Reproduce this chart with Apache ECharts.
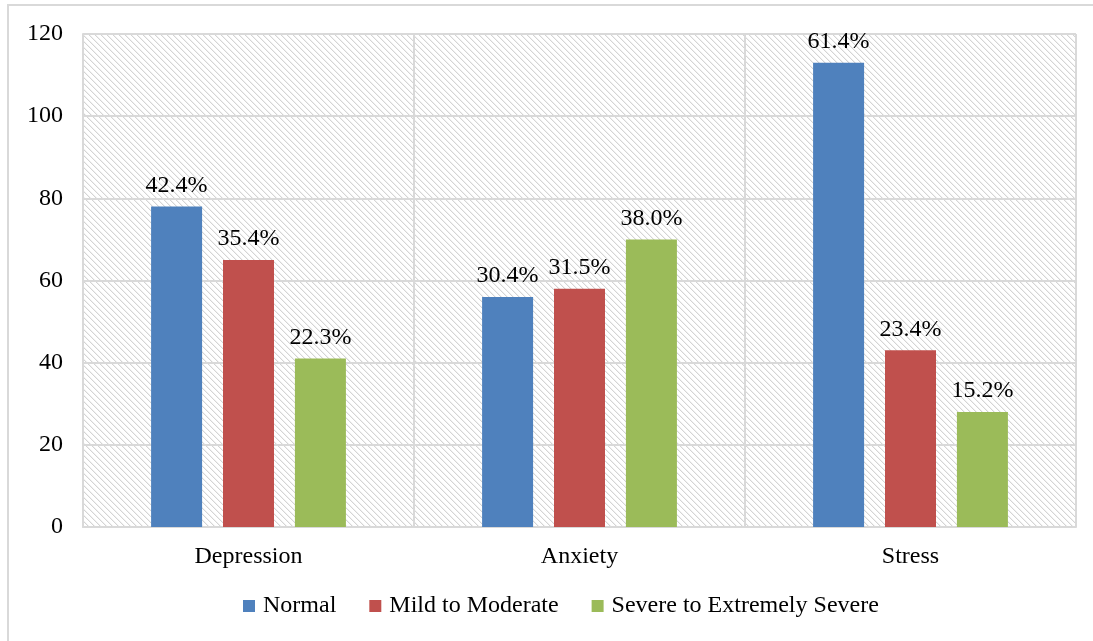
<!DOCTYPE html>
<html>
<head>
<meta charset="utf-8">
<script src="https://cdn.jsdelivr.net/npm/echarts@6/dist/echarts.min.js"></script>
<style>
  html, body { margin: 0; padding: 0; background: #fff; }
  #chart { width: 1093px; height: 641px; }
</style>
</head>
<body>
<div id="chart"></div>
<script>
// Scale categories and participant counts per severity level
const categories = ['Depression', 'Anxiety', 'Stress'];
const seriesNames = ['Normal', 'Mild to Moderate', 'Severe to Extremely Severe'];
const normalCounts = [78, 56, 113];
const mildCounts = [65, 58, 43];
const severeCounts = [41, 70, 28];
// Percentage shown above each bar
const normalPct = ['42.4%', '30.4%', '61.4%'];
const mildPct = ['35.4%', '31.5%', '23.4%'];
const severePct = ['22.3%', '38.0%', '15.2%'];
const yTicks = { min: 0, max: 120, interval: 20 };

const colors = ['#4f81bd', '#c0504d', '#9bbb59'];
const FONT = '"Liberation Serif", "Times New Roman", serif';
const GRID_GRAY = '#d9d9d9';
const FS = 24;

// Light downward-diagonal hatch for the plot area
function makeHatch() {
  const c = document.createElement('canvas');
  const n = 6;
  c.width = n; c.height = n;
  const ctx = c.getContext('2d');
  ctx.fillStyle = '#ffffff';
  ctx.fillRect(0, 0, n, n);
  for (let i = 0; i < n; i++) {
    ctx.fillStyle = '#d4d4d4';
    ctx.fillRect(i, i, 1, 1);
    ctx.fillStyle = '#f1f1f1';
    ctx.fillRect((i + 1) % n, i, 1, 1);
  }
  return c;
}

const chart = echarts.init(document.getElementById('chart'), null, { renderer: 'canvas' });

function barSeries(name, data, labels, color) {
  return {
    name: name,
    type: 'bar',
    data: data,
    barWidth: 51,
    barGap: '41%',
    itemStyle: { color: color },
    label: {
      show: true,
      position: 'top',
      distance: 9,
      fontFamily: FONT,
      fontSize: FS,
      color: '#000',
      formatter: p => labels[p.dataIndex]
    }
  };
}

chart.setOption({
  animation: false,
  backgroundColor: '#fff',
  textStyle: { fontFamily: FONT },
  graphic: [{
    type: 'rect',
    silent: true,
    z: -10,
    shape: { x: 8, y: 5, width: 1200, height: 700 },
    style: { fill: 'none', stroke: GRID_GRAY, lineWidth: 2 }
  }],
  grid: {
    left: 83, right: 17, top: 34, bottom: 114,
    show: true,
    borderWidth: 0,
    backgroundColor: { image: makeHatch(), repeat: 'repeat' }
  },
  legend: {
    bottom: 18,
    left: 238,
    icon: 'rect',
    itemWidth: 12,
    itemHeight: 12,
    itemGap: 33,
    textStyle: { fontFamily: FONT, fontSize: FS, color: '#000', padding: [0, 0, 0, 3] },
    data: seriesNames
  },
  xAxis: {
    type: 'category',
    data: categories,
    axisLine: { show: true, lineStyle: { color: GRID_GRAY, width: 2 } },
    axisTick: { show: false },
    splitLine: { show: true, lineStyle: { color: GRID_GRAY, width: 2 } },
    axisLabel: { fontFamily: FONT, fontSize: FS, color: '#000', margin: 18 }
  },
  yAxis: {
    type: 'value',
    min: yTicks.min,
    max: yTicks.max,
    interval: yTicks.interval,
    axisLine: { show: true, lineStyle: { color: GRID_GRAY, width: 2 } },
    axisTick: { show: false },
    splitLine: { show: true, lineStyle: { color: GRID_GRAY, width: 2 } },
    axisLabel: { fontFamily: FONT, fontSize: FS, color: '#000', margin: 20 }
  },
  series: [
    barSeries(seriesNames[0], normalCounts, normalPct, colors[0]),
    barSeries(seriesNames[1], mildCounts, mildPct, colors[1]),
    barSeries(seriesNames[2], severeCounts, severePct, colors[2])
  ]
});
</script>
</body>
</html>
